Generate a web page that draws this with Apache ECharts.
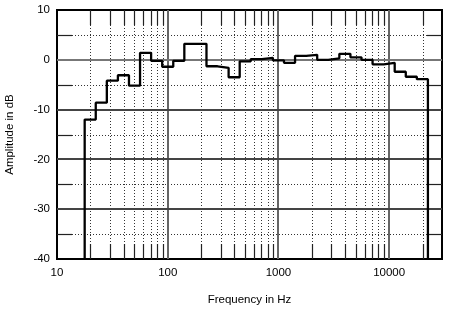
<!DOCTYPE html>
<html><head><meta charset="utf-8">
<script src="https://cdn.jsdelivr.net/npm/echarts@6/dist/echarts.min.js"></script>
<style>html,body{margin:0;padding:0;background:#fff}#c{width:450px;height:310px}</style>
</head><body><div id="c"></div>
<script>
// 1/3-octave band centres (Hz) and measured levels (dB)
const bandCenters = [20,25,31.5,40,50,63,80,100,125,160,200,250,315,400,500,630,800,1000,1250,1600,2000,2500,3150,4000,5000,6300,8000,10000,12500,16000,20000];
const levels = [-12.0,-8.6,-4.2,-3.1,-5.2,1.4,-0.2,-1.4,-0.2,3.2,3.2,-1.3,-1.6,-3.5,-0.3,0.15,0.4,-0.1,-0.6,0.8,1.0,0.0,0.3,1.2,0.5,0.0,-0.9,-0.6,-2.4,-3.4,-3.9];
const xTickLabels = [10,100,1000,10000];
const yTickLabels = [-40,-30,-20,-10,0,10];
const minorFreqs = [20,30,40,50,60,70,80,90,200,300,400,500,600,700,800,900,2000,3000,4000,5000,6000,7000,8000,9000,20000];
const majorFreqs = [100,1000,10000];
const minorLevels = [5,-5,-15,-25,-35];
const majorLevels = [0,-10,-20,-30];
const xMin = 10, xMax = 30000, yMin = -40, yMax = 10;

// build step outline at band edges
const steps = [];
bandCenters.forEach((c, i) => {
  const e = Math.round(Math.log10(c) * 10) / 10;
  const lo = Math.pow(10, e - 0.05), hi = Math.pow(10, e + 0.05);
  if (i === 0) steps.push([lo, yMin]);
  steps.push([lo, levels[i]]);
  steps.push([hi, levels[i]]);
  if (i === bandCenters.length - 1) steps.push([hi, yMin]);
});

const STUB = 15;
function vLine(dotted) {
  return function (params, api) {
    const f = api.value(0);
    const t = api.coord([f, yMax]), b = api.coord([f, yMin]);
    const x = Math.round(t[0]) + (dotted ? 0.5 : 0);
    const ch = [];
    if (dotted) {
      ch.push({type:'line', shape:{x1:x,y1:t[1],x2:x,y2:b[1]}, style:{stroke:'#333',lineWidth:1,lineDash:[1,2]}});
      ch.push({type:'line', shape:{x1:x,y1:t[1],x2:x,y2:t[1]+STUB}, style:{stroke:'#222',lineWidth:1.2}});
      ch.push({type:'line', shape:{x1:x,y1:b[1],x2:x,y2:b[1]-STUB}, style:{stroke:'#222',lineWidth:1.2}});
    } else {
      ch.push({type:'line', shape:{x1:x,y1:t[1],x2:x,y2:b[1]}, style:{stroke:'#666',lineWidth:2}});
    }
    return {type:'group', children:ch};
  };
}
function hLine(dotted) {
  return function (params, api) {
    const l = api.value(1);
    const a = api.coord([xMin, l]), b = api.coord([xMax, l]);
    const y = Math.round(a[1]) + (dotted ? 0.5 : 0);
    const ch = [];
    if (dotted) {
      ch.push({type:'line', shape:{x1:a[0],y1:y,x2:b[0],y2:y}, style:{stroke:'#333',lineWidth:1,lineDash:[1,2]}});
      ch.push({type:'line', shape:{x1:a[0],y1:y,x2:a[0]+STUB,y2:y}, style:{stroke:'#222',lineWidth:1.2}});
      ch.push({type:'line', shape:{x1:b[0],y1:y,x2:b[0]-STUB,y2:y}, style:{stroke:'#222',lineWidth:1.2}});
    } else {
      ch.push({type:'line', shape:{x1:a[0],y1:y,x2:b[0],y2:y}, style:{stroke: l === 0 ? '#777' : '#444',lineWidth:2}});
    }
    return {type:'group', children:ch};
  };
}

const font = 'Liberation Sans, Arial, sans-serif';
const chart = echarts.init(document.getElementById('c'), null, {renderer:'canvas'});
chart.setOption({
  animation: false,
  backgroundColor: '#fff',
  grid: {left: 57, right: 8, top: 10, bottom: 51, show: true, borderColor: '#000', borderWidth: 2,
         backgroundColor: 'transparent', containLabel: false, outerBoundsMode: 'none'},
  xAxis: {
    type: 'log', logBase: 10, min: xMin, max: xMax,
    name: 'Frequency in Hz', nameLocation: 'middle', nameGap: 35,
    nameTextStyle: {fontFamily: font, fontSize: 11.5, color: '#000'},
    axisLine: {show: true, lineStyle: {color: '#000', width: 2}},
    axisTick: {show: false}, splitLine: {show: false}, minorTick: {show: false},
    axisLabel: {
      fontFamily: font, fontSize: 11.5, color: '#000', margin: 8,
      showMaxLabel: false,
      formatter: v => xTickLabels.some(t => Math.abs(t - v) / t < 1e-6) ? String(Math.round(v)) : ''
    }
  },
  yAxis: {
    type: 'value', min: yMin, max: yMax, interval: 10,
    name: 'Amplitude in dB', nameLocation: 'middle', nameGap: 41, nameRotate: 90,
    nameTextStyle: {fontFamily: font, fontSize: 11.5, color: '#000'},
    axisLine: {show: true, lineStyle: {color: '#000', width: 2}},
    axisTick: {show: false}, splitLine: {show: false},
    axisLabel: {
      fontFamily: font, fontSize: 11.5, color: '#000', margin: 7,
      formatter: v => yTickLabels.includes(v) ? String(v) : ''
    }
  },
  series: [
    {type:'custom', silent:true, z:1, renderItem: vLine(true), data: minorFreqs.map(f => [f, 0]), clip: false},
    {type:'custom', silent:true, z:1, renderItem: hLine(true), data: minorLevels.map(l => [xMin, l]), clip: false},
    {type:'custom', silent:true, z:2, renderItem: vLine(false), data: majorFreqs.map(f => [f, 0]), clip: false},
    {type:'custom', silent:true, z:2, renderItem: hLine(false), data: majorLevels.map(l => [xMin, l]), clip: false},
    {type:'line', z:5, data: steps, showSymbol:false, symbol:'none', silent:true,
     lineStyle:{color:'#000', width:2.3}, clip: true}
  ]
});
</script>
</body></html>
